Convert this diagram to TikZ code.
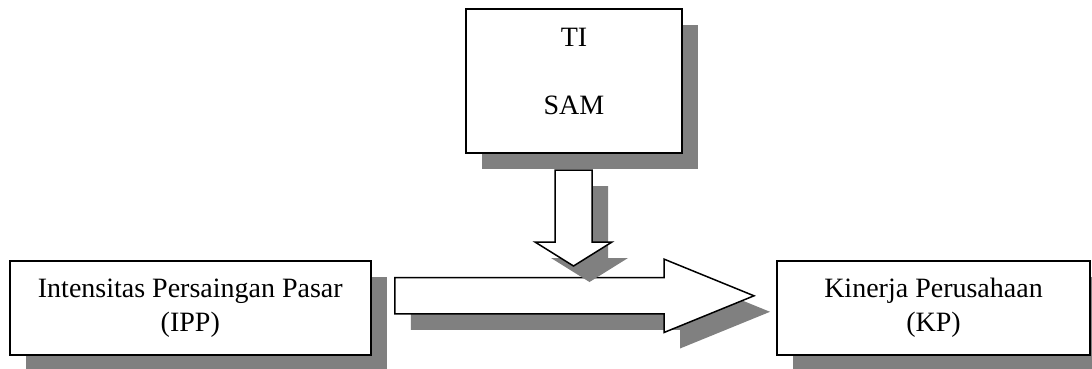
\documentclass[tikz,border=0pt]{standalone}
\usepackage{fontspec}
\setmainfont{Liberation Serif}
\usetikzlibrary{shadows}
\definecolor{shade}{HTML}{808080}
\begin{document}
\begin{tikzpicture}[x=1pt,y=-1pt,
  txt/.style={font=\fontsize{28}{34}\selectfont, align=center, inner sep=0pt},
  shadowed/.style={general shadow={fill=shade, shadow xshift=16pt, shadow yshift=-16pt}},
  box/.style={txt, draw, line width=2pt, fill=white, shadowed},
  blockarrow/.style={draw, line width=1.5pt, fill=white, line join=miter, shadowed}]
\clip (0,0) rectangle (1092,368);

% top box with its two labels
\node[box, minimum width=216pt, minimum height=144pt] (tisam) at (573.9,81) {};
\node[txt] (tisamtext) at (574,71.5) {TI\\[34pt]SAM};

% side boxes
\node[box, minimum width=360.7pt, minimum height=94.3pt] (ipp) at (190.3,307.8)
  {Intensitas Persaingan Pasar\\(IPP)};
\node[box, minimum width=313pt, minimum height=94.3pt] (kp) at (933.5,307.8)
  {Kinerja Perusahaan\\(KP)};

% horizontal block arrow from IPP towards KP
\coordinate (hstart) at ([xshift=23.3pt]ipp.east |- 0,295.8);
\coordinate (htip) at ([xshift=-22pt]kp.west |- 0,295.8);
\path[blockarrow] (hstart) ++(0,-18.1) -- (664,277.7) -- (664,259.1) -- (htip)
  -- (664,332.5) -- (664,313.9) -- ([yshift=-18.1pt]hstart) -- cycle;

% vertical block arrow from the top box down onto the horizontal one
\coordinate (vstart) at (573.5,170);
\coordinate (vtip) at (573.5,266);
\path[blockarrow] (vstart) ++(-18.5,0) -- (592,170) -- (592,242) -- (612,242) -- (vtip)
  -- (535,242) -- (555,242) -- cycle;
\end{tikzpicture}
\end{document}
